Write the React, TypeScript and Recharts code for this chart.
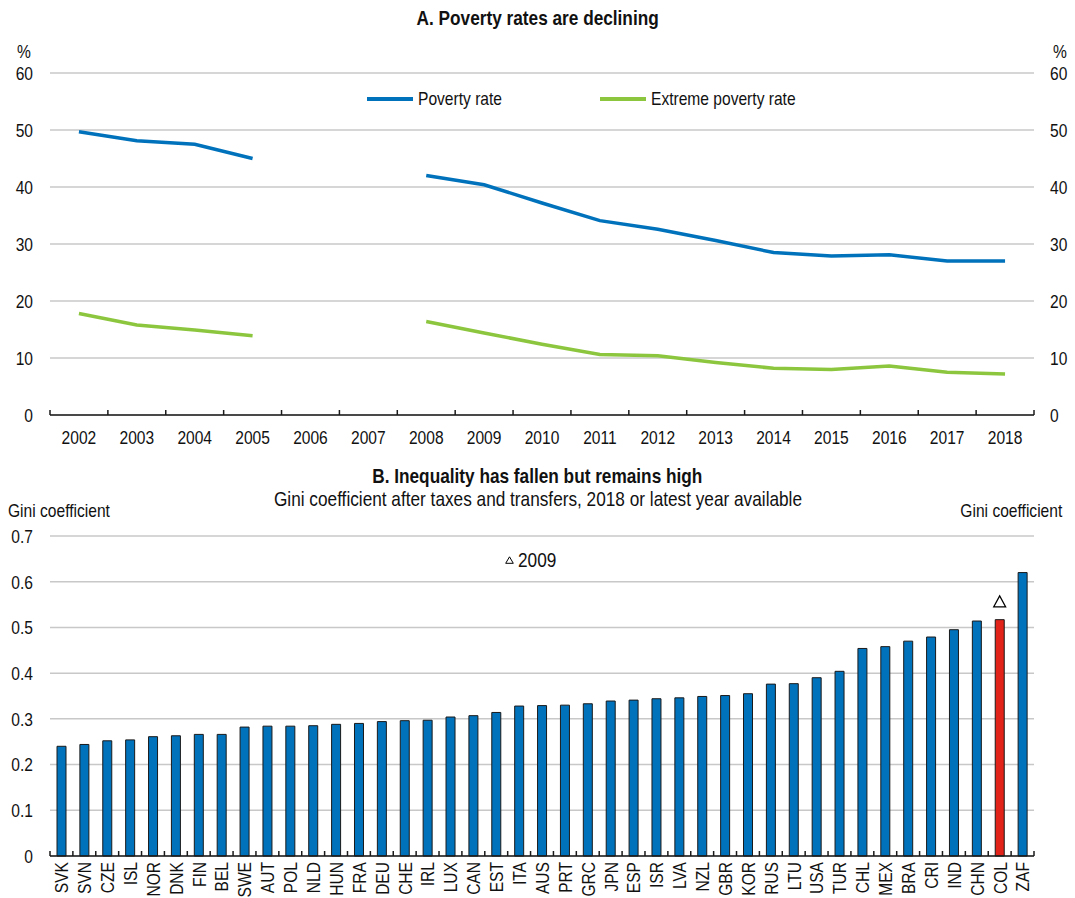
import {
  ComposedChart,
  Line,
  Bar,
  Cell,
  Scatter,
  XAxis,
  YAxis,
  CartesianGrid,
  Legend,
} from 'recharts';

// Arial-style face, squeezed horizontally to get a narrow look
const FONT = "'Liberation Sans', Arial, sans-serif";
const SQUEEZE = 0.82;
const FONT_SIZE = 19;

const BLUE = '#0072bc';
const GREEN = '#8cc63f';
const RED = '#e2231a';
const GRID = '#c8c8c8';
const AXIS = '#1a1a1a';
const TEXT = '#111';

const WIDTH = 1075;
const PLOT_LEFT = 50;
const PLOT_RIGHT = 1034;

// Panel A: poverty rates, % of population
const years = [
  '2002', '2003', '2004', '2005', '2006', '2007', '2008', '2009', '2010',
  '2011', '2012', '2013', '2014', '2015', '2016', '2017', '2018',
];
const povertyRate = [
  49.7, 48.1, 47.5, 45.0, null, null, 42.0, 40.4, 37.2,
  34.1, 32.6, 30.6, 28.5, 27.9, 28.1, 27.0, 27.0,
];
const extremePovertyRate = [
  17.8, 15.8, 14.9, 13.9, null, null, 16.4, 14.4, 12.4,
  10.6, 10.4, 9.2, 8.2, 8.0, 8.6, 7.5, 7.2,
];
const povertyTicks = [0, 10, 20, 30, 40, 50, 60];

// Panel B: Gini coefficient after taxes and transfers
const countries = [
  'SVK', 'SVN', 'CZE', 'ISL', 'NOR', 'DNK', 'FIN', 'BEL', 'SWE', 'AUT', 'POL',
  'NLD', 'HUN', 'FRA', 'DEU', 'CHE', 'IRL', 'LUX', 'CAN', 'EST', 'ITA', 'AUS',
  'PRT', 'GRC', 'JPN', 'ESP', 'ISR', 'LVA', 'NZL', 'GBR', 'KOR', 'RUS', 'LTU',
  'USA', 'TUR', 'CHL', 'MEX', 'BRA', 'CRI', 'IND', 'CHN', 'COL', 'ZAF',
];
const gini = [
  0.240, 0.244, 0.252, 0.254, 0.261, 0.263, 0.266, 0.266, 0.282, 0.284, 0.284,
  0.285, 0.288, 0.290, 0.294, 0.296, 0.297, 0.304, 0.307, 0.314, 0.328, 0.329,
  0.330, 0.333, 0.339, 0.341, 0.344, 0.346, 0.349, 0.351, 0.355, 0.376, 0.377,
  0.390, 0.404, 0.454, 0.458, 0.470, 0.479, 0.495, 0.514, 0.517, 0.620,
];
const gini2009: Record<string, number> = { COL: 0.557 };
const giniTicks = [0, 0.1, 0.2, 0.3, 0.4, 0.5, 0.6, 0.7];
const HIGHLIGHT = 'COL';

const povertyData = years.map((year, i) => ({
  year,
  poverty: povertyRate[i],
  extreme: extremePovertyRate[i],
}));

const giniData = countries.map((country, i) => ({
  country,
  gini: gini[i],
  gini2009: gini2009[country] ?? null,
}));

const yearBand = (PLOT_RIGHT - PLOT_LEFT) / years.length;
const countryBand = (PLOT_RIGHT - PLOT_LEFT) / countries.length;

const textProps = { fill: TEXT, fontSize: FONT_SIZE, fontFamily: FONT };

// SVG text squeezed around its anchor point
function NarrowText({ x, y, anchor, rotate = 0, dy, children }: any) {
  return (
    <text
      transform={`translate(${x},${y}) rotate(${rotate}) scale(${SQUEEZE},1)`}
      x={0}
      y={0}
      dy={dy}
      textAnchor={anchor}
      {...textProps}
    >
      {children}
    </text>
  );
}

// category tick: label plus a short upward mark on the band's left edge
function YearTick({ x, y, payload, index }: any) {
  const left = x - yearBand / 2;
  const right = x + yearBand / 2;
  return (
    <g>
      <line x1={left} x2={left} y1={y} y2={y - 5} stroke={AXIS} strokeWidth={1.5} />
      {index === years.length - 1 && (
        <line x1={right} x2={right} y1={y} y2={y - 5} stroke={AXIS} strokeWidth={1.5} />
      )}
      <NarrowText x={x} y={y + 29} anchor="middle">
        {payload.value}
      </NarrowText>
    </g>
  );
}

function CountryTick({ x, y, payload, index }: any) {
  const left = x - countryBand / 2;
  const right = x + countryBand / 2;
  return (
    <g>
      <line x1={left} x2={left} y1={y} y2={y - 5} stroke={AXIS} strokeWidth={1.5} />
      {index === countries.length - 1 && (
        <line x1={right} x2={right} y1={y} y2={y - 5} stroke={AXIS} strokeWidth={1.5} />
      )}
      <NarrowText x={x} y={y + 6} anchor="end" rotate={-90} dy="0.36em">
        {payload.value}
      </NarrowText>
    </g>
  );
}

// value tick for the left and right axes; side decides the text anchor
function ValueTick({ x, y, payload, side, tickFormatter }: any) {
  const text = tickFormatter ? tickFormatter(payload.value) : payload.value;
  return (
    <NarrowText x={x} y={y} anchor={side === 'right' ? 'start' : 'end'} dy="0.36em">
      {text}
    </NarrowText>
  );
}

const giniFormat = (v: number) => (v === 0 ? '0' : v.toFixed(1));

function Narrow({ origin, children }: any) {
  return (
    <span style={{ display: 'inline-block', transform: `scaleX(${SQUEEZE})`, transformOrigin: origin }}>
      {children}
    </span>
  );
}

const legendSlots: Record<string, number> = {
  'Poverty rate': 367,
  'Extreme poverty rate': 600,
};

function PovertyLegend({ payload }: any) {
  return (
    <div style={{ position: 'relative', height: 20 }}>
      {(payload ?? []).map((entry: any) => (
        <div
          key={entry.value}
          style={{
            position: 'absolute',
            left: legendSlots[entry.value],
            top: 0,
            display: 'flex',
            alignItems: 'center',
            height: 20,
            fontFamily: FONT,
            fontSize: FONT_SIZE,
            color: TEXT,
            whiteSpace: 'nowrap',
          }}
        >
          <span style={{ display: 'inline-block', width: 46, height: 3.5, background: entry.color, marginRight: 5 }} />
          <Narrow origin="left center">{entry.value}</Narrow>
        </div>
      ))}
    </div>
  );
}

function GiniLegend({ payload }: any) {
  const items = (payload ?? []).filter((entry: any) => entry.value === '2009');
  return (
    <div>
      {items.map((entry: any) => (
        <div
          key={entry.value}
          style={{
            display: 'flex',
            alignItems: 'center',
            fontFamily: FONT,
            fontSize: 21,
            color: TEXT,
            height: 22,
            whiteSpace: 'nowrap',
          }}
        >
          <svg width={9} height={8} style={{ marginRight: 4 }}>
            <path d="M4.5,0.8 L8.3,7.3 L0.7,7.3 Z" fill="#fff" stroke="#000" strokeWidth={1} />
          </svg>
          <Narrow origin="left center">{entry.value}</Narrow>
        </div>
      ))}
    </div>
  );
}

function Marker2009(props: any) {
  const { cx, cy, payload } = props;
  if (payload == null || payload.gini2009 == null) return <g />;
  const w = 12;
  const h = 11;
  return (
    <path
      d={`M${cx},${cy - h / 2} L${cx + w / 2},${cy + h / 2} L${cx - w / 2},${cy + h / 2} Z`}
      fill="#fff"
      stroke="#000"
      strokeWidth={1.2}
    />
  );
}

const label = (extra: React.CSSProperties): React.CSSProperties => ({
  position: 'absolute',
  fontFamily: FONT,
  fontSize: FONT_SIZE,
  lineHeight: '20px',
  color: TEXT,
  whiteSpace: 'nowrap',
  ...extra,
});

export default function App() {
  return (
    <div
      style={{
        position: 'absolute',
        left: 0,
        top: 0,
        width: WIDTH,
        height: 898,
        background: '#fff',
        fontFamily: FONT,
      }}
    >
      <div style={label({ top: 7, left: 0, width: WIDTH, textAlign: 'center', fontWeight: 'bold', fontSize: 21, lineHeight: '22px' })}>
        <Narrow origin="center">A. Poverty rates are declining</Narrow>
      </div>
      <div style={label({ top: 42, left: 17 })}>
        <Narrow origin="left">%</Narrow>
      </div>
      <div style={label({ top: 42, left: 1053 })}>
        <Narrow origin="left">%</Narrow>
      </div>

      <div style={{ position: 'absolute', left: 0, top: 0 }}>
        <ComposedChart width={WIDTH} height={460} data={povertyData} margin={{ top: 73, right: 0, bottom: 0, left: 0 }}>
          <CartesianGrid yAxisId="pctLeft" vertical={false} stroke={GRID} strokeWidth={1.5} />
          <XAxis
            dataKey="year"
            height={45}
            interval={0}
            padding={{ left: yearBand / 2, right: yearBand / 2 }}
            axisLine={{ stroke: AXIS, strokeWidth: 1.5 }}
            tickLine={false}
            tickSize={0}
            tickMargin={0}
            tick={<YearTick />}
          />
          <YAxis
            yAxisId="pctLeft"
            orientation="left"
            width={PLOT_LEFT}
            domain={[0, 60]}
            ticks={povertyTicks}
            interval={0}
            axisLine={false}
            tickLine={false}
            tickSize={6}
            tickMargin={11}
            tick={<ValueTick side="left" />}
          />
          <YAxis
            yAxisId="pctRight"
            orientation="right"
            width={WIDTH - PLOT_RIGHT}
            domain={[0, 60]}
            ticks={povertyTicks}
            interval={0}
            axisLine={false}
            tickLine={false}
            tickSize={16}
            tickMargin={0}
            tick={<ValueTick side="right" />}
          />
          <Legend
            layout="horizontal"
            verticalAlign="middle"
            align="center"
            content={<PovertyLegend />}
            wrapperStyle={{ left: 0, top: 89, width: WIDTH }}
          />
          <Line
            yAxisId="pctLeft"
            type="linear"
            name="Poverty rate"
            dataKey="poverty"
            stroke={BLUE}
            strokeWidth={3.5}
            dot={false}
            connectNulls={false}
            isAnimationActive={false}
          />
          <Line
            yAxisId="pctRight"
            type="linear"
            name="Extreme poverty rate"
            dataKey="extreme"
            stroke={GREEN}
            strokeWidth={3.5}
            dot={false}
            connectNulls={false}
            isAnimationActive={false}
          />
        </ComposedChart>
      </div>

      <div style={label({ top: 465, left: 0, width: WIDTH, textAlign: 'center', fontWeight: 'bold', fontSize: 21, lineHeight: '22px' })}>
        <Narrow origin="center">B. Inequality has fallen but remains high</Narrow>
      </div>
      <div style={label({ top: 488, left: 0, width: WIDTH, textAlign: 'center', fontSize: 21, lineHeight: '22px' })}>
        <Narrow origin="center">Gini coefficient after taxes and transfers, 2018 or latest year available</Narrow>
      </div>
      <div style={label({ top: 501, left: 8 })}>
        <Narrow origin="left">Gini coefficient</Narrow>
      </div>
      <div style={label({ top: 501, right: 13, textAlign: 'right' })}>
        <Narrow origin="right">Gini coefficient</Narrow>
      </div>

      <div style={{ position: 'absolute', left: 0, top: 445 }}>
        <ComposedChart width={WIDTH} height={453} data={giniData} margin={{ top: 91, right: 0, bottom: 0, left: 0 }}>
          <CartesianGrid yAxisId="giniLeft" vertical={false} stroke={GRID} strokeWidth={1.5} />
          <XAxis
            dataKey="country"
            height={42}
            interval={0}
            axisLine={{ stroke: AXIS, strokeWidth: 1.5 }}
            tickLine={false}
            tickSize={0}
            tickMargin={0}
            tick={<CountryTick />}
          />
          <YAxis
            yAxisId="giniLeft"
            orientation="left"
            width={PLOT_LEFT}
            domain={[0, 0.7]}
            ticks={giniTicks}
            interval={0}
            axisLine={false}
            tickLine={false}
            tickSize={6}
            tickMargin={11}
            tickFormatter={giniFormat}
            tick={<ValueTick side="left" />}
          />
          <YAxis
            yAxisId="giniRight"
            orientation="right"
            width={WIDTH - PLOT_RIGHT}
            domain={[0, 0.7]}
            ticks={giniTicks}
            interval={0}
            axisLine={false}
            tickLine={false}
            tickSize={6}
            tickMargin={0}
            tickFormatter={giniFormat}
            tick={<ValueTick side="right" />}
          />
          <Legend
            layout="horizontal"
            verticalAlign="middle"
            align="center"
            content={<GiniLegend />}
            wrapperStyle={{ left: 505, top: 104, width: 'auto' }}
          />
          <Bar
            yAxisId="giniLeft"
            name="Gini coefficient"
            dataKey="gini"
            barSize={9}
            stroke={AXIS}
            strokeWidth={1}
            isAnimationActive={false}
          >
            {giniData.map((d) => (
              <Cell key={d.country} fill={d.country === HIGHLIGHT ? RED : BLUE} />
            ))}
          </Bar>
          <Scatter
            yAxisId="giniLeft"
            name="2009"
            dataKey="gini2009"
            fill="#fff"
            shape={<Marker2009 />}
            isAnimationActive={false}
          />
        </ComposedChart>
      </div>
    </div>
  );
}
